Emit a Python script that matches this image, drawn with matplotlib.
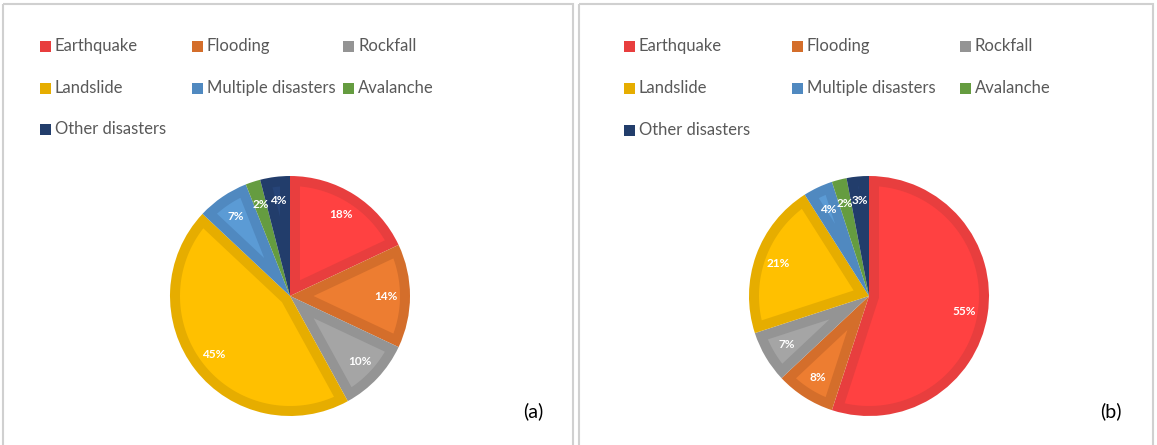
"""Two Excel-style pie charts of disaster types, panels (a) and (b)."""

import matplotlib
matplotlib.use("Agg")
import matplotlib.pyplot as plt
import numpy as np
from matplotlib.patches import Polygon, Rectangle

W, H = 1157, 445
DPI = 100

categories = ["Earthquake", "Flooding", "Rockfall", "Landslide",
              "Multiple disasters", "Avalanche", "Other disasters"]
share_a = [18, 14, 10, 45, 7, 2, 4]
share_b = [55, 8, 7, 21, 4, 2, 3]
panel_labels = ["(a)", "(b)"]

# inner fill / darker outer band, like the Excel style
fill_colors = ["#FF4141", "#ED7D31", "#A5A5A5", "#FFC000", "#5B9BD5", "#70AD47", "#264478"]
band_colors = ["#E83E3E", "#D46E2B", "#949494", "#E6AD00", "#5089C0", "#659C40", "#223D6B"]

FONT = "Lato"
TEXT_GREY = "#595959"
BAND_PX = 10


def inset_polygon(theta1, theta2, radius, d):
    """Wedge shrunk inwards by d on every side (None if nothing is left)."""
    t1, t2 = np.radians(theta1), np.radians(theta2)
    half = (t2 - t1) / 2
    mid = t1 + half
    apex = (d / np.sin(half)) * np.array([np.cos(mid), np.sin(mid)])
    r_in = radius - d
    if np.hypot(*apex) >= r_in:
        return None
    ends = []
    for t in (t1, t2):
        u = np.array([np.cos(t), np.sin(t)])
        au = apex @ u
        s = -au + np.sqrt(au ** 2 - apex @ apex + r_in ** 2)
        p = apex + s * u
        ends.append(np.arctan2(p[1], p[0]))
    a1, a2 = ends
    while a2 <= a1:
        a2 += 2 * np.pi
    arc = np.linspace(a1, a2, 120)
    pts = np.column_stack([r_in * np.cos(arc), r_in * np.sin(arc)])
    return np.vstack([apex, pts])


def draw_pie(fig, cx, cy, r, values):
    box = r + 4
    ax = fig.add_axes([(cx - box) / W, (H - cy - box) / H, 2 * box / W, 2 * box / H])
    wedges, _, _ = ax.pie(
        values, colors=band_colors, startangle=90, counterclock=False,
        radius=r / box, autopct="%1.0f%%", pctdistance=0.8,
        wedgeprops=dict(linewidth=0),
        textprops=dict(color="white", fontsize=8.5, fontweight="bold", family=FONT),
    )
    for w, fill in zip(wedges, fill_colors):
        pts = inset_polygon(w.theta1, w.theta2, w.r, BAND_PX / box)
        if pts is not None:
            ax.add_patch(Polygon(pts, closed=True, facecolor=fill, lw=0, zorder=2))
    ax.set_xlim(-1, 1)
    ax.set_ylim(-1, 1)
    ax.set_axis_off()
    return ax


def draw_legend(bg, x_cols, y_rows):
    for i, name in enumerate(categories):
        x = x_cols[i % 3]
        y = y_rows[i // 3]
        bg.add_patch(Rectangle((x, y - 5.5), 11, 11, color=band_colors[i], lw=0))
        bg.text(x + 15, y, name, va="center", ha="left", fontsize=12,
                color=TEXT_GREY, family=FONT)


fig = plt.figure(figsize=(W / DPI, H / DPI), dpi=DPI)
bg = fig.add_axes([0, 0, 1, 1])
bg.set_xlim(0, W)
bg.set_ylim(H, 0)
bg.set_axis_off()

# panel frames (bottom edge runs off the image)
for x0, x1 in [(3, 573), (579, 1153)]:
    bg.add_patch(Rectangle((x0, 4), x1 - x0, H + 10, fill=False,
                           edgecolor="#D0D0D0", lw=1.5))

draw_legend(bg, [40, 192, 343], [46, 88, 129])
draw_legend(bg, [624, 792, 960], [46, 88, 130])

draw_pie(fig, 290, 296, 120, share_a)
draw_pie(fig, 869, 296, 120, share_b)

for (x, y), lab in zip([(533, 411), (1111, 411)], panel_labels):
    bg.text(x, y, lab, ha="center", va="center", fontsize=14, color="black", family=FONT)

fig.savefig("out.png", dpi=DPI)
